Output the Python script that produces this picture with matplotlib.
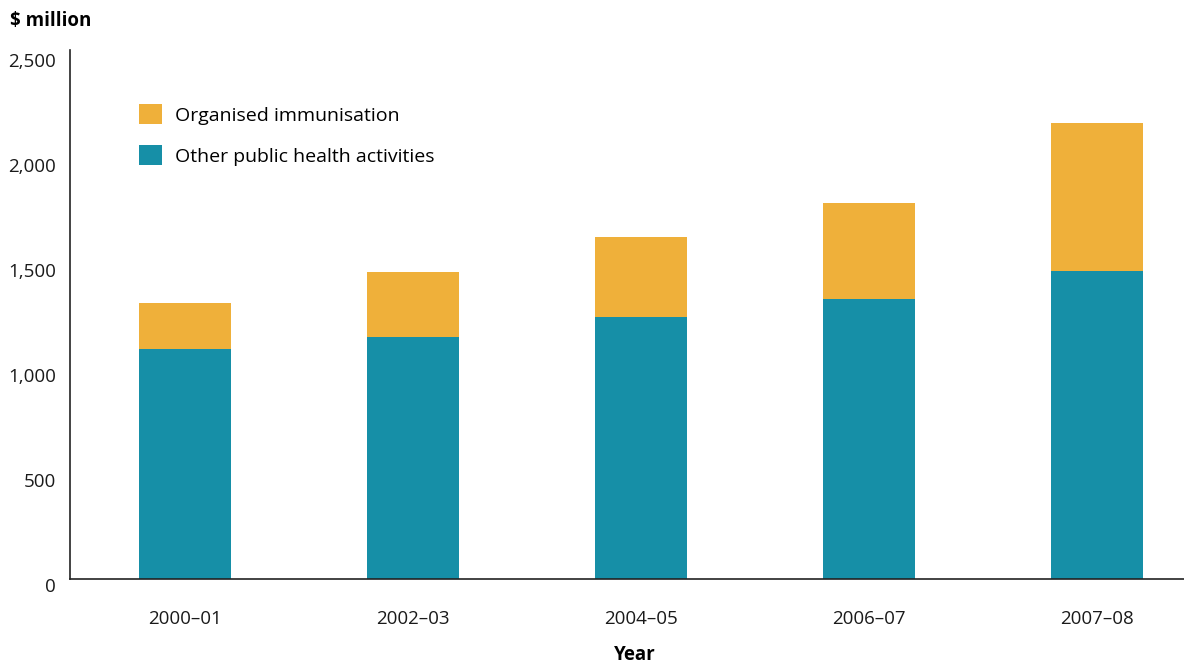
import numpy as np
import matplotlib.pyplot as plt
import matplotlib.transforms as mtransforms

plt.rcParams['font.family'] = ['Open Sans', 'DejaVu Sans']

# dados
anos = ['2000–01', '2002–03', '2004–05', '2006–07', '2007–08']
outras = [1095, 1152, 1248, 1333, 1467]       # Other public health activities
imunizacao = [219, 310, 381, 457, 704]        # Organised immunisation

cor_teal = '#168FA7'
cor_laranja = '#EFB03A'

fig = plt.figure(figsize=(11.84, 6.64), dpi=100)
ax = fig.add_axes([70/1184, 1 - 579/664, 1 - 70/1184, (579 - 50)/664])

x = np.arange(len(anos))
largura = 0.404

ax.bar(x, outras, width=largura, color=cor_teal, label='Other public health activities')
ax.bar(x, imunizacao, width=largura, bottom=outras, color=cor_laranja,
       label='Organised immunisation')

ax.set_xlim(-0.504, 4.38)
ax.set_ylim(0, 2519)
ax.set_yticks([0, 500, 1000, 1500, 2000, 2500])
ax.set_yticklabels(['0', '500', '1,000', '1,500', '2,000', '2,500'])
ax.set_xticks(x)
ax.set_xticklabels(anos)
ax.tick_params(axis='both', length=0, labelsize=13.5, colors='#1a1a1a')
ax.tick_params(axis='y', pad=10)
ax.tick_params(axis='x', pad=22)

# rótulos do eixo y um pouco abaixo da marca
desloc = mtransforms.ScaledTranslation(0, -6.5/100, fig.dpi_scale_trans)
for lbl in ax.get_yticklabels():
    lbl.set_transform(lbl.get_transform() + desloc)

for lado in ['top', 'right']:
    ax.spines[lado].set_visible(False)
for lado in ['left', 'bottom']:
    ax.spines[lado].set_color('#222222')
    ax.spines[lado].set_linewidth(1.2)

handles, labels = ax.get_legend_handles_labels()
ax.legend(handles[::-1], labels[::-1], loc='upper left', bbox_to_anchor=(0.0619, 0.897),
          frameon=False, fontsize=14, handlelength=1.18, handleheight=1.18,
          handletextpad=0.67, labelspacing=1.05, borderpad=0, borderaxespad=0)

fig.text(10/1184, 1 - 21/664, '\\$ million', fontsize=13.5, fontweight='bold',
         ha='left', va='center')
fig.text(635/1184, 1 - 655/664, 'Year', fontsize=13.5, fontweight='bold',
         ha='center', va='center')

plt.savefig('out.png', dpi=100)
